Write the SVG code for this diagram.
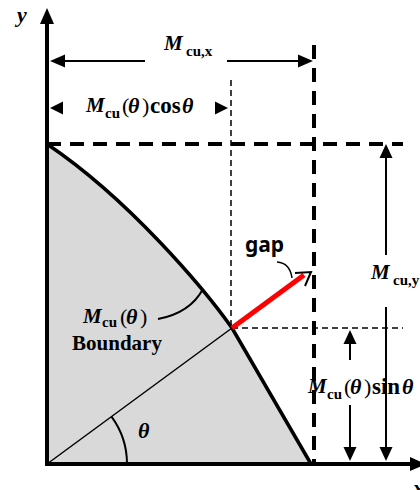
<svg xmlns="http://www.w3.org/2000/svg" width="420" height="490" viewBox="0 0 420 490">
<style>
.ax{stroke:#000;stroke-width:4;fill:none}
.thick{stroke:#000;stroke-width:4;stroke-dasharray:14 9;fill:none}
.thin{stroke:#000;stroke-width:1.5;stroke-dasharray:6 4;fill:none}
.dim{stroke:#000;stroke-width:2;fill:none}
.ah{fill:#000;stroke:none}
.m{font-family:"Liberation Serif",serif;font-weight:bold;font-style:italic;font-size:21px}
.t{font-family:"Liberation Serif",serif;font-weight:bold;font-style:italic;font-size:22px}
.s{font-family:"Liberation Serif",serif;font-weight:bold;font-style:normal;font-size:15px}
.p{font-family:"Liberation Serif",serif;font-weight:normal;font-style:normal;font-size:22px}
.f{font-family:"Liberation Serif",serif;font-weight:bold;font-style:normal;font-size:23px}
.b{font-family:"Liberation Serif",serif;font-weight:bold;font-size:21px}
.g{font-family:"Noto Sans",sans-serif;font-weight:bold;font-size:21px}
</style>
<g id="region">
<path d="M47,144 C130,200 205,290 232,328 L311,464 L47,464 Z" fill="#d9d9d9"/>
</g>
<g id="connectors">
<line class="thin" x1="231" y1="80" x2="231" y2="328"/>
<line class="thin" x1="232" y1="328" x2="403" y2="328"/>
<line class="thick" x1="47" y1="144" x2="403" y2="144"/>
<line class="thick" x1="314" y1="45" x2="314" y2="464"/>
<line x1="47" y1="464" x2="232" y2="328" stroke="#000" stroke-width="1.5"/>
<path d="M127,464 A80,80 0 0 0 111.5,416.7" class="dim" stroke-width="3"/>
<path d="M47,144 C130,200 205,290 232,328 L311,464" stroke="#000" stroke-width="3.5" fill="none" stroke-linejoin="round"/>
<path d="M158,319 Q190,313 203,289" class="dim" stroke-width="1.5"/>
<line x1="232" y1="328" x2="304" y2="275" stroke="#ff0000" stroke-width="5"/>
<path d="M295,273 L311,272 L305,286" fill="none" stroke="#000" stroke-width="2"/>
<path d="M277,262 Q290,263 292,278" fill="none" stroke="#000" stroke-width="1.5"/>
<line class="ax" x1="47" y1="466" x2="47" y2="20"/>
<polygon class="ah" points="47,8 40,24 54,24"/>
<line class="ax" x1="45" y1="464" x2="412" y2="464"/>
<polygon class="ah" points="426,464 410,457 410,471"/>
<line class="dim" x1="64" y1="61" x2="145" y2="61"/>
<polygon class="ah" points="50,61 65,54.5 65,67.5"/>
<line class="dim" x1="227" y1="61" x2="300" y2="61"/>
<polygon class="ah" points="313,61 298,54.5 298,67.5"/>
<polygon class="ah" points="50,108 63,101.5 63,114.5"/>
<polygon class="ah" points="228,108 215,101.5 215,114.5"/>
<line class="dim" x1="386" y1="156" x2="386" y2="255"/>
<polygon class="ah" points="386,144 379.5,158 392.5,158"/>
<line class="dim" x1="386" y1="307" x2="386" y2="450"/>
<polygon class="ah" points="386,461 379.5,447 392.5,447"/>
<line class="dim" x1="350" y1="342" x2="350" y2="360"/>
<polygon class="ah" points="350,330 343.5,344 356.5,344"/>
<line class="dim" x1="350" y1="405" x2="350" y2="450"/>
<polygon class="ah" points="350,461 343.5,447 356.5,447"/>
</g>
<g id="labels">
<text class="t" x="17" y="22">y</text>
<text class="t" x="413" y="495">x</text>
<text class="t" x="138" y="438">θ</text>
<text id="mcux"><tspan class="m" x="164" y="50">M</tspan><tspan class="s" x="186" y="56">cu,x</tspan></text>
<text id="mcucos"><tspan class="m" x="86" y="112">M</tspan><tspan class="s" x="105" y="118">cu</tspan><tspan class="p" x="122" y="113">(</tspan><tspan class="t" x="128" y="113">θ</tspan><tspan class="p" x="142" y="113">)</tspan><tspan class="f" x="150" y="113">cos</tspan><tspan class="t" x="182" y="113">θ</tspan></text>
<text id="mcuy"><tspan class="m" x="371" y="279">M</tspan><tspan class="s" x="393" y="285">cu,y</tspan></text>
<text id="mcusin"><tspan class="m" x="308" y="393">M</tspan><tspan class="s" x="327" y="399">cu</tspan><tspan class="p" x="344" y="394">(</tspan><tspan class="t" x="350" y="394">θ</tspan><tspan class="p" x="364" y="394">)</tspan><tspan class="f" x="372" y="394">sin</tspan><tspan class="t" x="402" y="394">θ</tspan></text>
<text id="bnd"><tspan class="m" x="83" y="323">M</tspan><tspan class="s" x="102" y="327" font-size="14">cu</tspan><tspan class="p" x="120" y="324">(</tspan><tspan class="t" x="126" y="324">θ</tspan><tspan class="p" x="140" y="324">)</tspan></text>
<text class="b" x="117" y="350" text-anchor="middle">Boundary</text>
<text class="g" x="245" y="252">gap</text>
</g>
</svg>
